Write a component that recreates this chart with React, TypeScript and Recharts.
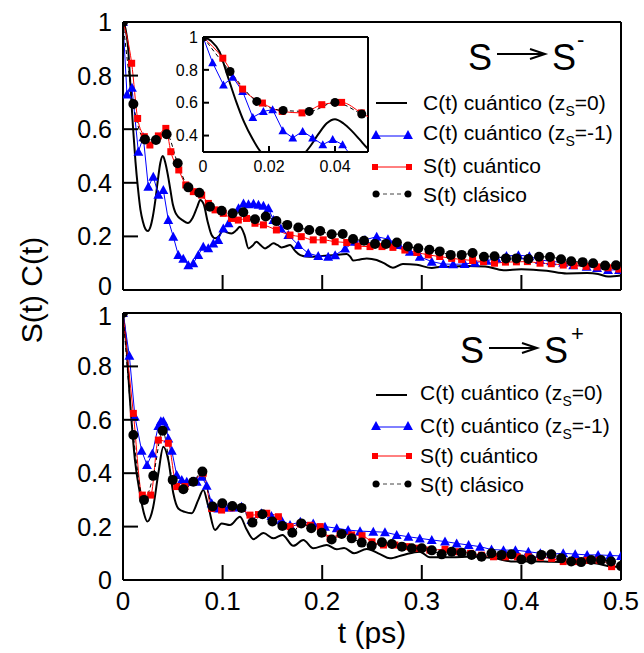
import React from 'react';
import { LineChart, Line, XAxis, YAxis, ReferenceLine } from 'recharts';

const FONT = '"Liberation Sans", Arial, Helvetica, sans-serif';
const BLUE = '#0000ff';
const RED = '#ff0000';
const BLACK = '#000000';

// ---------- tick values / labels ----------
const mainXTicks = [0, 0.1, 0.2, 0.3, 0.4, 0.5];
const mainXTickLabels = ['0', '0.1', '0.2', '0.3', '0.4', '0.5'];
const mainYTicks = [0, 0.2, 0.4, 0.6, 0.8, 1];
const mainYTickLabels = ['0', '0.2', '0.4', '0.6', '0.8', '1'];
const insetXTicks = [0, 0.02, 0.04];
const insetXTickLabels = ['0', '0.02', '0.04'];
const insetYTicks = [0.4, 0.6, 0.8, 1];
const insetYTickLabels = ['0.4', '0.6', '0.8', '1'];

const legendLabels = ['C(t) cuántico (z', 'C(t) cuántico (z', 'S(t) cuántico', 'S(t) clásico'];
const legendTails = ['=0)', '=-1)'];

// ---------- top panel (S -> S-) : [t (ps), value] ----------
const topC0: [number, number][] = [
  [0, 1], [0.0025, 0.975], [0.005, 0.91], [0.0075, 0.76], [0.01, 0.61], [0.0125, 0.48], [0.015, 0.38],
  [0.0175, 0.3], [0.02, 0.255], [0.0225, 0.228], [0.025, 0.22], [0.0275, 0.235], [0.03, 0.275],
  [0.0325, 0.335], [0.035, 0.41], [0.0375, 0.475], [0.04, 0.5], [0.0425, 0.475], [0.045, 0.43],
  [0.0475, 0.375], [0.05, 0.32], [0.0525, 0.29], [0.055, 0.275], [0.06, 0.26], [0.065, 0.25],
  [0.07, 0.27], [0.0745, 0.31], [0.0775, 0.336], [0.081, 0.32], [0.085, 0.255], [0.089, 0.205],
  [0.0925, 0.193], [0.096, 0.2], [0.1005, 0.222], [0.105, 0.214], [0.109, 0.211], [0.1135, 0.222],
  [0.1175, 0.236], [0.122, 0.205], [0.126, 0.155], [0.13, 0.165], [0.134, 0.18], [0.138, 0.168],
  [0.1426, 0.155], [0.147, 0.165], [0.151, 0.174], [0.155, 0.168], [0.159, 0.159], [0.1635, 0.163],
  [0.1677, 0.168], [0.173, 0.145], [0.178, 0.13], [0.184, 0.125], [0.191, 0.124], [0.2, 0.127],
  [0.211, 0.13], [0.2246, 0.134], [0.228, 0.125], [0.231, 0.11], [0.238, 0.114], [0.2447, 0.118],
  [0.2547, 0.112], [0.262, 0.1], [0.271, 0.083], [0.281, 0.097], [0.295, 0.094], [0.31, 0.082],
  [0.32, 0.087], [0.331, 0.087], [0.345, 0.09], [0.3635, 0.088], [0.382, 0.074], [0.4, 0.077],
  [0.412, 0.076], [0.4254, 0.072], [0.4455, 0.062], [0.466, 0.063], [0.477, 0.06], [0.487, 0.05],
  [0.5, 0.054],
];
const topC1: [number, number][] = [
  [0, 1], [0.004, 0.73], [0.009, 0.755], [0.0154, 0.516], [0.0204, 0.57], [0.0254, 0.385],
  [0.0304, 0.423], [0.0355, 0.356], [0.0405, 0.373], [0.0455, 0.261], [0.0505, 0.199], [0.0555, 0.131],
  [0.0605, 0.117], [0.0656, 0.093], [0.0706, 0.1], [0.0756, 0.131], [0.0806, 0.162], [0.0856, 0.156],
  [0.0907, 0.174], [0.0957, 0.187], [0.1007, 0.23], [0.106, 0.249], [0.111, 0.274], [0.116, 0.305],
  [0.121, 0.323], [0.126, 0.32], [0.131, 0.322], [0.136, 0.318], [0.141, 0.315], [0.146, 0.305],
  [0.151, 0.261], [0.1585, 0.23], [0.166, 0.205], [0.176, 0.168], [0.186, 0.137], [0.196, 0.127],
  [0.206, 0.124], [0.213, 0.13], [0.223, 0.155], [0.233, 0.18], [0.243, 0.187], [0.2547, 0.199],
  [0.266, 0.19], [0.277, 0.168], [0.288, 0.143], [0.298, 0.124], [0.31, 0.106], [0.3216, 0.097],
  [0.3315, 0.096], [0.343, 0.097], [0.3534, 0.102], [0.365, 0.109], [0.375, 0.118], [0.385, 0.127],
  [0.397, 0.13], [0.408, 0.126], [0.4187, 0.112], [0.43, 0.107], [0.442, 0.102], [0.452, 0.093],
  [0.4655, 0.087], [0.476, 0.082], [0.487, 0.075], [0.498, 0.075],
];
const topSq: [number, number][] = [
  [0, 1], [0.0087, 0.846], [0.0147, 0.64], [0.0214, 0.572], [0.027, 0.541], [0.0355, 0.575],
  [0.043, 0.603], [0.048, 0.516], [0.056, 0.448], [0.063, 0.392], [0.0706, 0.367], [0.079, 0.354],
  [0.0857, 0.323], [0.0924, 0.299], [0.1007, 0.286], [0.109, 0.267], [0.1158, 0.261], [0.124, 0.267],
  [0.1325, 0.249], [0.141, 0.243], [0.154, 0.224], [0.1677, 0.205], [0.179, 0.199], [0.191, 0.187],
  [0.201, 0.187], [0.213, 0.18], [0.2246, 0.177], [0.236, 0.164], [0.248, 0.162], [0.26, 0.162],
  [0.271, 0.159], [0.283, 0.149], [0.295, 0.14], [0.3065, 0.131], [0.318, 0.125], [0.33, 0.118],
  [0.34, 0.114], [0.351, 0.11], [0.362, 0.106], [0.373, 0.1], [0.384, 0.104], [0.395, 0.105],
  [0.406, 0.106], [0.4187, 0.1], [0.43, 0.098], [0.442, 0.093], [0.453, 0.091], [0.465, 0.088],
  [0.476, 0.086], [0.487, 0.083], [0.498, 0.078],
];
const topDots: [number, number][] = [
  [0, 1], [0.0104, 0.694], [0.0221, 0.562], [0.0331, 0.56], [0.0438, 0.581], [0.0549, 0.473],
  [0.0656, 0.383], [0.0766, 0.363], [0.0873, 0.311], [0.099, 0.296], [0.11, 0.286], [0.1208, 0.29],
  [0.1325, 0.264], [0.1433, 0.274], [0.154, 0.257], [0.165, 0.243], [0.176, 0.233], [0.187, 0.224],
  [0.198, 0.22], [0.2095, 0.208], [0.2206, 0.209], [0.231, 0.19], [0.242, 0.184], [0.253, 0.172],
  [0.264, 0.172], [0.275, 0.177], [0.286, 0.162], [0.2965, 0.156], [0.3076, 0.15], [0.318, 0.144],
  [0.329, 0.131], [0.34, 0.131], [0.351, 0.138], [0.3624, 0.124], [0.373, 0.126], [0.3845, 0.118],
  [0.395, 0.118], [0.407, 0.116], [0.4177, 0.124], [0.4287, 0.123], [0.4398, 0.115], [0.45, 0.107],
  [0.4615, 0.104], [0.472, 0.1], [0.484, 0.091], [0.495, 0.092],
];

// ---------- inset (early times of top panel) ----------
const insetC1: [number, number][] = [
  [0, 1], [0.0029, 0.844], [0.0062, 0.709], [0.009, 0.756], [0.012, 0.669], [0.0151, 0.511],
  [0.0183, 0.547], [0.0211, 0.558], [0.0242, 0.43], [0.0272, 0.386], [0.0302, 0.426], [0.0332, 0.386],
  [0.0363, 0.345], [0.0393, 0.376], [0.0423, 0.345], [0.0455, 0.261], [0.0505, 0.199],
];
const insetSq: [number, number][] = [
  [0, 1], [0.006, 0.871], [0.012, 0.683], [0.018, 0.598], [0.024, 0.547], [0.03, 0.538],
  [0.036, 0.588], [0.042, 0.602], [0.048, 0.538], [0.054, 0.47],
];
const insetDots: [number, number][] = [
  [0, 1], [0.0082, 0.79], [0.0163, 0.608], [0.0243, 0.553], [0.0322, 0.547], [0.04, 0.602],
  [0.0481, 0.531], [0.056, 0.46],
];

// ---------- bottom panel (S -> S+) ----------
const botC0: [number, number][] = [
  [0, 1], [0.0035, 0.87], [0.007, 0.674], [0.012, 0.449], [0.017, 0.325], [0.021, 0.25], [0.0244, 0.219],
  [0.0275, 0.235], [0.0304, 0.275], [0.0355, 0.4], [0.0405, 0.499], [0.0455, 0.449], [0.0505, 0.325],
  [0.0555, 0.268], [0.062, 0.255], [0.069, 0.25], [0.0756, 0.3], [0.0806, 0.337], [0.0857, 0.275],
  [0.0924, 0.187], [0.099, 0.212], [0.1074, 0.206], [0.1175, 0.237], [0.124, 0.19], [0.131, 0.153],
  [0.141, 0.176], [0.151, 0.156], [0.16, 0.169], [0.171, 0.128], [0.181, 0.15], [0.191, 0.119],
  [0.2045, 0.131], [0.2145, 0.115], [0.222, 0.12], [0.232, 0.1], [0.2447, 0.116], [0.258, 0.097],
  [0.268, 0.081], [0.2815, 0.094], [0.298, 0.106], [0.308, 0.085], [0.33, 0.085], [0.35, 0.088],
  [0.372, 0.082], [0.392, 0.069], [0.41, 0.07], [0.43, 0.068], [0.45, 0.067], [0.472, 0.064],
  [0.492, 0.05], [0.5, 0.05],
];
const botC1: [number, number][] = [
  [0, 1], [0.0064, 0.84], [0.012, 0.612], [0.0187, 0.484], [0.0241, 0.431], [0.0295, 0.474],
  [0.0355, 0.577], [0.038, 0.595], [0.0405, 0.595], [0.043, 0.575], [0.0455, 0.53], [0.049, 0.484],
  [0.0539, 0.393], [0.059, 0.375], [0.064, 0.368], [0.069, 0.368], [0.074, 0.368], [0.079, 0.387],
  [0.084, 0.353], [0.089, 0.288], [0.0957, 0.268], [0.1007, 0.272], [0.106, 0.272], [0.112, 0.272],
  [0.119, 0.275], [0.129, 0.225], [0.139, 0.25], [0.149, 0.24], [0.159, 0.225], [0.1677, 0.206],
  [0.178, 0.218], [0.191, 0.212], [0.2028, 0.2], [0.2146, 0.194], [0.226, 0.187], [0.238, 0.183],
  [0.2513, 0.181], [0.263, 0.179], [0.2748, 0.169], [0.2865, 0.162], [0.298, 0.156], [0.31, 0.15],
  [0.3233, 0.144], [0.335, 0.137], [0.347, 0.131], [0.3584, 0.125], [0.37, 0.114], [0.382, 0.112],
  [0.394, 0.112], [0.407, 0.106], [0.419, 0.1], [0.43, 0.097], [0.442, 0.1], [0.454, 0.097],
  [0.466, 0.094], [0.477, 0.094], [0.489, 0.092], [0.5, 0.09],
];
const botSq: [number, number][] = [
  [0, 1], [0.0104, 0.624], [0.0194, 0.318], [0.0278, 0.318], [0.0355, 0.524], [0.0455, 0.512],
  [0.0539, 0.35], [0.0622, 0.35], [0.0706, 0.368], [0.0806, 0.4], [0.089, 0.268], [0.099, 0.262],
  [0.109, 0.27], [0.119, 0.268], [0.1275, 0.243], [0.136, 0.245], [0.1443, 0.25], [0.156, 0.237],
  [0.1677, 0.2], [0.178, 0.21], [0.188, 0.205], [0.198, 0.2], [0.208, 0.156], [0.218, 0.172],
  [0.2296, 0.169], [0.24, 0.166], [0.25, 0.143], [0.2615, 0.131], [0.273, 0.131], [0.285, 0.125],
  [0.2965, 0.119], [0.308, 0.112], [0.3233, 0.115], [0.337, 0.106], [0.349, 0.1], [0.36, 0.093],
  [0.372, 0.087], [0.384, 0.087], [0.396, 0.087], [0.407, 0.087], [0.419, 0.085], [0.4304, 0.081],
  [0.442, 0.069], [0.454, 0.069], [0.466, 0.074], [0.478, 0.074], [0.4906, 0.05],
];
const botDots: [number, number][] = [
  [0, 1], [0.0104, 0.543], [0.0211, 0.3], [0.0304, 0.39], [0.0398, 0.559], [0.0499, 0.375],
  [0.0606, 0.34], [0.0706, 0.368], [0.0797, 0.406], [0.09, 0.275], [0.0997, 0.287], [0.1098, 0.277],
  [0.119, 0.27], [0.13, 0.215], [0.14, 0.246], [0.15, 0.219], [0.16, 0.202], [0.17, 0.177],
  [0.179, 0.212], [0.189, 0.194], [0.1995, 0.177], [0.2095, 0.152], [0.2196, 0.172], [0.2296, 0.156],
  [0.2397, 0.14], [0.2497, 0.128], [0.26, 0.141], [0.27, 0.135], [0.28, 0.125], [0.29, 0.119],
  [0.3, 0.119], [0.31, 0.111], [0.32, 0.096], [0.33, 0.106], [0.34, 0.102], [0.35, 0.094],
  [0.36, 0.087], [0.37, 0.1], [0.38, 0.094], [0.39, 0.096], [0.4, 0.077], [0.41, 0.077],
  [0.42, 0.094], [0.43, 0.096], [0.44, 0.081], [0.45, 0.069], [0.46, 0.067], [0.47, 0.075],
  [0.48, 0.075], [0.49, 0.069], [0.5, 0.052],
];

const rows = (d: [number, number][]) => d.map(([t, v]) => ({ t, v }));

// ---------- markers ----------
const triPath = (cx: number, cy: number, s: number) =>
  `M${cx},${cy - s * 0.55}L${cx + s * 0.55},${cy + s * 0.45}L${cx - s * 0.55},${cy + s * 0.45}Z`;

const triDot = (s: number) => (p: any) =>
  p.cx == null ? <g key={`t-${p.index}`} /> : <path key={`t-${p.index}`} d={triPath(p.cx, p.cy, s)} fill={BLUE} />;
const sqDot = (s: number) => (p: any) =>
  p.cx == null ? <g key={`s-${p.index}`} /> : (
    <rect key={`s-${p.index}`} x={p.cx - s / 2} y={p.cy - s / 2} width={s} height={s} fill={RED} />
  );
const circDot = (r: number) => (p: any) =>
  p.cx == null ? <g key={`c-${p.index}`} /> : <circle key={`c-${p.index}`} cx={p.cx} cy={p.cy} r={r} fill={BLACK} />;

// ---------- custom inward ticks ----------
const yTick = (ticks: number[], labels: string[], len: number, gap: number, fs: number, shift?: { v: number; dy: number }) => (p: any) => {
  const i = ticks.indexOf(p.payload.value);
  const label = i >= 0 ? labels[i] : '';
  const extra = shift && shift.v === p.payload.value ? shift.dy : 0;
  return (
    <g key={`yt-${p.index}`}>
      <line x1={p.x} x2={p.x + len} y1={p.y} y2={p.y} stroke={BLACK} strokeWidth={2} />
      <text x={p.x - gap} y={p.y + extra} dy="0.36em" textAnchor="end" fontSize={fs} fontFamily={FONT} fill={BLACK}>
        {label}
      </text>
    </g>
  );
};
const xTick = (ticks: number[], labels: string[] | null, len: number, base: number, fs: number) => (p: any) => {
  const i = ticks.indexOf(p.payload.value);
  const label = labels && i >= 0 ? labels[i] : '';
  return (
    <g key={`xt-${p.index}`}>
      <line x1={p.x} x2={p.x} y1={p.y} y2={p.y - len} stroke={BLACK} strokeWidth={2} />
      {label ? (
        <text x={p.x} y={p.y + base} textAnchor="middle" fontSize={fs} fontFamily={FONT} fill={BLACK}>
          {label}
        </text>
      ) : null}
    </g>
  );
};

type Series = { c0: [number, number][]; c1: [number, number][]; sq: [number, number][]; dots: [number, number][] };

const Panel = ({ s, showX, height, margin, shift }: { s: Series; showX: boolean; height: number; margin: any; shift: { v: number; dy: number } }) => (
  <LineChart width={644} height={height} margin={margin}>
    <XAxis
      type="number"
      dataKey="t"
      domain={[0, 0.5]}
      ticks={mainXTicks}
      interval={0}
      allowDataOverflow
      height={1}
      tickSize={0}
      tickMargin={0}
      axisLine={{ stroke: BLACK, strokeWidth: 2 }}
      tickLine={false}
      tick={xTick(mainXTicks, showX ? mainXTickLabels : null, 15, 30, 26)}
    />
    <YAxis
      type="number"
      dataKey="v"
      domain={[0, 1]}
      ticks={mainYTicks}
      interval={0}
      allowDataOverflow
      width={1}
      tickSize={0}
      tickMargin={0}
      axisLine={{ stroke: BLACK, strokeWidth: 2 }}
      tickLine={false}
      tick={yTick(mainYTicks, mainYTickLabels, 15, 11, 25, shift)}
    />
    <ReferenceLine y={1} stroke={BLACK} strokeWidth={2} />
    <ReferenceLine x={0.5} stroke={BLACK} strokeWidth={2} />
    <Line data={rows(s.c0)} dataKey="v" type="monotone" stroke={BLACK} strokeWidth={2} dot={false} activeDot={false} isAnimationActive={false} />
    <Line data={rows(s.c1)} dataKey="v" type="linear" stroke={BLUE} strokeWidth={1} dot={triDot(9)} activeDot={false} isAnimationActive={false} />
    <Line data={rows(s.sq)} dataKey="v" type="monotone" stroke={RED} strokeWidth={1} dot={sqDot(7)} activeDot={false} isAnimationActive={false} />
    <Line data={rows(s.dots)} dataKey="v" type="monotone" stroke={BLACK} strokeWidth={1} strokeDasharray="4 3" dot={circDot(5)} activeDot={false} isAnimationActive={false} />
  </LineChart>
);

const Inset = () => (
  <LineChart width={220} height={160} margin={{ top: 12, right: 12, bottom: 32, left: 42 }}>
    <XAxis
      type="number"
      dataKey="t"
      domain={[0, 0.05]}
      ticks={insetXTicks}
      interval={0}
      allowDataOverflow
      height={1}
      tickSize={0}
      tickMargin={0}
      axisLine={{ stroke: BLACK, strokeWidth: 2 }}
      tickLine={false}
      tick={xTick(insetXTicks, insetXTickLabels, 6, 20, 16)}
    />
    <YAxis
      type="number"
      dataKey="v"
      domain={[0.3, 1]}
      ticks={insetYTicks}
      interval={0}
      allowDataOverflow
      width={1}
      tickSize={0}
      tickMargin={0}
      axisLine={{ stroke: BLACK, strokeWidth: 2 }}
      tickLine={false}
      tick={yTick(insetYTicks, insetYTickLabels, 6, 5, 16)}
    />
    <ReferenceLine y={1} stroke={BLACK} strokeWidth={2} />
    <ReferenceLine x={0.05} stroke={BLACK} strokeWidth={2} />
    <Line data={rows(topC0)} dataKey="v" type="monotone" stroke={BLACK} strokeWidth={2} dot={false} activeDot={false} isAnimationActive={false} />
    <Line data={rows(insetC1)} dataKey="v" type="linear" stroke={BLUE} strokeWidth={1} dot={triDot(8)} activeDot={false} isAnimationActive={false} />
    <Line data={rows(insetSq)} dataKey="v" type="monotone" stroke={RED} strokeWidth={1} dot={sqDot(7)} activeDot={false} isAnimationActive={false} />
    <Line data={rows(insetDots)} dataKey="v" type="monotone" stroke={BLACK} strokeWidth={1} strokeDasharray="4 3" dot={circDot(4.5)} activeDot={false} isAnimationActive={false} />
  </LineChart>
);

const Title = ({ x, base, arrowY, sign, signX, signBase }: any) => (
  <g>
    <text x={x} y={base} fontSize={36} fontFamily={FONT} fill={BLACK}>S</text>
    <line x1={x + 29} x2={x + 77} y1={arrowY} y2={arrowY} stroke={BLACK} strokeWidth={2} />
    <polyline points={`${x + 62},${arrowY - 5} ${x + 77},${arrowY} ${x + 62},${arrowY + 5}`} fill="none" stroke={BLACK} strokeWidth={2} />
    <text x={x + 84} y={base} fontSize={36} fontFamily={FONT} fill={BLACK}>S</text>
    <text x={signX} y={signBase} fontSize={22} fontFamily={FONT} fill={BLACK}>{sign}</text>
  </g>
);

const LegendBlock = ({ tx, ys, bases }: { tx: number; ys: number[]; bases: number[] }) => {
  const x1 = 376;
  const x2 = 408;
  const fs = 21;
  return (
    <g fontFamily={FONT} fill={BLACK}>
      <line x1={x1} x2={x2 - 1} y1={ys[0]} y2={ys[0]} stroke={BLACK} strokeWidth={2} />
      <line x1={x1} x2={x2} y1={ys[1]} y2={ys[1]} stroke={BLUE} strokeWidth={1} />
      <path d={triPath(x1, ys[1] - 1, 9)} fill={BLUE} />
      <path d={triPath(x2, ys[1] - 1, 9)} fill={BLUE} />
      <line x1={x1 - 2} x2={x2 + 1} y1={ys[2]} y2={ys[2]} stroke={RED} strokeWidth={1} />
      <rect x={x1 - 4} y={ys[2] - 3} width={6} height={6} fill={RED} />
      <rect x={x2 - 2} y={ys[2] - 3} width={6} height={6} fill={RED} />
      <line x1={x1} x2={x2} y1={ys[3]} y2={ys[3]} stroke="#444" strokeWidth={1} strokeDasharray="4 3" />
      <circle cx={x1} cy={ys[3]} r={3.5} fill={BLACK} />
      <circle cx={x2} cy={ys[3]} r={3.5} fill={BLACK} />
      {[0, 1].map((i) => (
        <text key={i} x={tx} y={bases[i]} fontSize={fs}>
          {legendLabels[i]}
          <tspan dy={6} fontSize={14}>S</tspan>
          <tspan dy={-6}>{legendTails[i]}</tspan>
        </text>
      ))}
      {[2, 3].map((i) => (
        <text key={i} x={tx} y={bases[i]} fontSize={fs}>{legendLabels[i]}</text>
      ))}
    </g>
  );
};

export default function App() {
  const topSeries: Series = { c0: topC0, c1: topC1, sq: topSq, dots: topDots };
  const botSeries: Series = { c0: botC0, c1: botC1, sq: botSq, dots: botDots };
  return (
    <div style={{ position: 'absolute', left: 0, top: 0, width: 644, height: 653, background: '#fff', overflow: 'hidden' }}>
      <div style={{ position: 'absolute', left: 0, top: 0 }}>
        <Panel s={topSeries} showX={false} height={310} margin={{ top: 22, right: 23, bottom: 19, left: 122 }} shift={{ v: 0, dy: -4 }} />
      </div>
      <div style={{ position: 'absolute', left: 0, top: 300 }}>
        <Panel s={botSeries} showX={true} height={353} margin={{ top: 13, right: 23, bottom: 72, left: 122 }} shift={{ v: 1, dy: 3 }} />
      </div>
      <div style={{ position: 'absolute', left: 203, top: 37, width: 165, height: 115, background: '#fff' }} />
      <div style={{ position: 'absolute', left: 160, top: 25 }}>
        <Inset />
      </div>
      <svg width={644} height={653} style={{ position: 'absolute', left: 0, top: 0, pointerEvents: 'none' }}>
        <Title x={468} base={70} arrowY={54} sign="-" signX={577} signBase={47} />
        <Title x={460} base={363} arrowY={348} sign="+" signX={571} signBase={341} />
        <LegendBlock tx={423} ys={[103, 136, 167, 194]} bases={[110, 140, 173, 202]} />
        <LegendBlock tx={420} ys={[395, 427, 456, 484]} bases={[400, 433, 463, 492]} />
        <text x={372} y={643} textAnchor="middle" fontSize={30} fontFamily={FONT} fill={BLACK}>t (ps)</text>
        <text x={31} y={290} dy="0.36em" textAnchor="middle" fontSize={30} fontFamily={FONT} fill={BLACK} transform="rotate(-90, 31, 290)">
          S(t) C(t)
        </text>
      </svg>
    </div>
  );
}
